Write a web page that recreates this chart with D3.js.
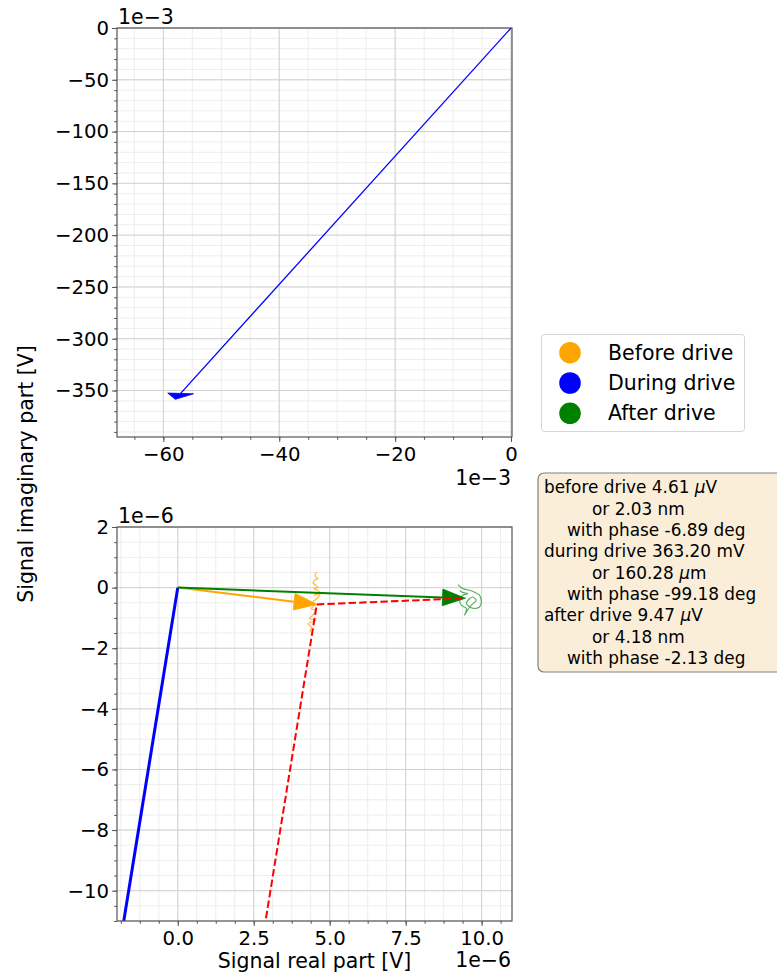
<!DOCTYPE html>
<html>
<head>
<meta charset="utf-8">
<script src="https://cdn.jsdelivr.net/npm/d3@7"></script>
<style>
body { margin: 0; background: #fff; }
text { font-family: "DejaVu Sans", sans-serif; }
</style>
</head>
<body>
<svg id="chart" width="777" height="976"></svg>
<script>
// values
var traceNames = ["Before drive", "During drive", "After drive"];
var amplitudeV = [4.61e-6, 363.20e-3, 9.47e-6];
var amplitudeText = ["4.61 μV", "363.20 mV", "9.47 μV"];
var displacementText = ["2.03 nm", "160.28 μm", "4.18 nm"];
var phaseDeg = [-6.89, -99.18, -2.13];

// noisy demodulated traces, in units of 1e-6 V
var beforeRe = [4.58, 4.52, 4.55, 4.62, 4.50, 4.45, 4.55, 4.62, 4.48, 4.67, 4.55, 4.50, 4.68, 4.58, 4.45, 4.52, 4.40, 4.52, 4.45, 4.34, 4.55, 4.28, 4.40, 4.34];
var beforeIm = [0.51, 0.42, 0.35, 0.30, 0.24, 0.15, 0.08, 0.00, -0.03, -0.14, -0.20, -0.25, -0.22, -0.36, -0.47, -0.55, -0.69, -0.75, -0.91, -1.02, -1.08, -1.19, -1.30, -1.46];
var afterRe = [9.22, 9.38, 9.61, 9.77, 9.93, 9.99, 9.93, 9.77, 9.61, 9.50, 9.61, 9.71, 9.82, 9.66, 9.50, 9.44, 9.50, 9.33, 9.28, 9.38, 9.55, 9.36, 9.28];
var afterIm = [0.10, -0.03, -0.09, -0.15, -0.25, -0.47, -0.64, -0.69, -0.64, -0.53, -0.36, -0.31, -0.42, -0.58, -0.80, -0.91, -0.69, -0.58, -0.42, -0.25, -0.20, -0.15, -0.09];

// tick labels
var topXTicks = [-60, -40, -20, 0];
var topYTicks = [0, -50, -100, -150, -200, -250, -300, -350];
var botXTicks = [0, 2.5, 5, 7.5, 10];
var botYTicks = [2, 0, -2, -4, -6, -8, -10];

var traceColors = ["orange", "blue", "green"];
var spineColor = "#555";

var svg = d3.select("#chart");
var defs = svg.append("defs");

// vector tips (V)
var tipRe = amplitudeV.map(function(a, i) { return a * Math.cos(phaseDeg[i] * Math.PI / 180); });
var tipIm = amplitudeV.map(function(a, i) { return a * Math.sin(phaseDeg[i] * Math.PI / 180); });

function steps(domain, step) {
	var lo = Math.ceil(d3.min(domain) / step - 1e-9), hi = Math.floor(d3.max(domain) / step + 1e-9);
	return d3.range(lo, hi + 1).map(function(k) { return k * step; });
}

function arrow(g, x, y, x1, y1, headLen, headWidth, color, lw, yStop) {
	var L = Math.hypot(x1, y1);
	var ux = x1 / L, uy = y1 / L;
	var bx = x1 - ux * headLen, by = y1 - uy * headLen;
	var px = -uy * headWidth / 2, py = ux * headWidth / 2;
	var ex = bx, ey = by;
	if (yStop !== undefined && by < yStop) { ey = yStop; ex = x1 * yStop / y1; }
	g.append("line")
		.attr("x1", x(0)).attr("y1", y(0))
		.attr("x2", x(ex)).attr("y2", y(ey))
		.attr("stroke", color).attr("stroke-width", lw);
	if (ex !== bx) return;
	g.append("path")
		.attr("d", "M" + x(bx + px) + "," + y(by + py) + "L" + x(x1) + "," + y(y1) + "L" + x(bx - px) + "," + y(by - py) + "Z")
		.attr("fill", color).attr("stroke", color).attr("stroke-width", 0.8);
}

function panel(cfg) {
	var g = svg.append("g").attr("transform", "translate(" + cfg.left + "," + cfg.top + ")");
	var x = d3.scaleLinear().domain(cfg.xDomain).range([0, cfg.width]);
	var y = d3.scaleLinear().domain(cfg.yDomain).range([cfg.height, 0]);

	defs.append("clipPath").attr("id", "clip" + cfg.id)
		.append("rect").attr("width", cfg.width).attr("height", cfg.height);

	var xMinor = steps(cfg.xDomain, cfg.xMinor), yMinor = steps(cfg.yDomain, cfg.yMinor);

	var grid = g.append("g");
	grid.selectAll(".vm").data(xMinor).enter().append("line")
		.attr("x1", x).attr("x2", x).attr("y1", 0).attr("y2", cfg.height)
		.attr("stroke", "#ededed");
	grid.selectAll(".hm").data(yMinor).enter().append("line")
		.attr("y1", y).attr("y2", y).attr("x1", 0).attr("x2", cfg.width)
		.attr("stroke", "#ededed");
	grid.selectAll(".vM").data(cfg.xTicks).enter().append("line")
		.attr("x1", x).attr("x2", x).attr("y1", 0).attr("y2", cfg.height)
		.attr("stroke", "#d2d2d2");
	grid.selectAll(".hM").data(cfg.yTicks).enter().append("line")
		.attr("y1", y).attr("y2", y).attr("x1", 0).attr("x2", cfg.width)
		.attr("stroke", "#d2d2d2");

	var plot = g.append("g").attr("clip-path", "url(#clip" + cfg.id + ")");
	cfg.draw(plot, x, y);

	g.append("rect").attr("width", cfg.width).attr("height", cfg.height)
		.attr("fill", "none").attr("stroke", spineColor).attr("stroke-width", 1.2);

	var fmt = d3.format(cfg.fmtX), fmtY = d3.format(cfg.fmtY);
	var ax = g.append("g").attr("transform", "translate(0," + cfg.height + ")")
		.call(d3.axisBottom(x).tickValues(cfg.xTicks).tickFormat(fmt).tickSize(5).tickPadding(5));
	var axm = g.append("g").attr("transform", "translate(0," + cfg.height + ")")
		.call(d3.axisBottom(x).tickValues(xMinor).tickFormat("").tickSize(2.8));
	var ay = g.append("g")
		.call(d3.axisLeft(y).tickValues(cfg.yTicks).tickFormat(fmtY).tickSize(5).tickPadding(3));
	var aym = g.append("g")
		.call(d3.axisLeft(y).tickValues(yMinor).tickFormat("").tickSize(2.8));
	[ax, axm, ay, aym].forEach(function(a) {
		a.select(".domain").remove();
		a.selectAll("line").attr("stroke", spineColor).attr("stroke-width", 1);
		a.selectAll("text").attr("font-size", 19.7).attr("fill", "#000")
			.attr("font-family", "DejaVu Sans");
	});

	g.append("text").attr("x", 1).attr("y", -4).attr("font-size", 20.5).text(cfg.offset);
	g.append("text").attr("x", cfg.width - 1).attr("y", cfg.offsetBottomY)
		.attr("text-anchor", "end").attr("font-size", 20.5).text(cfg.offset);
}

// top panel: whole drive, units 1e-3 V
panel({
	id: "top", left: 117, top: 28, width: 395, height: 409,
	xDomain: [-68, 0.17], yDomain: [-394.9, 0],
	xTicks: topXTicks, yTicks: topYTicks, xMinor: 5, yMinor: 10,
	fmtX: "d", fmtY: "d", offset: "1e−3", offsetBottomY: 457,
	draw: function(p, x, y) {
		var s = 1e-3;
		var ln = d3.line().x(function(d) { return x(d[0] * 1e-6 / s); }).y(function(d) { return y(d[1] * 1e-6 / s); });
		p.append("path").attr("d", ln(d3.zip(beforeRe, beforeIm))).attr("fill", "none").attr("stroke", "orange").attr("stroke-opacity", 0.5);
		p.append("path").attr("d", ln(d3.zip(afterRe, afterIm))).attr("fill", "none").attr("stroke", "green").attr("stroke-opacity", 0.7).attr("stroke-width", 2);
		arrow(p, x, y, tipRe[1] / s, tipIm[1] / s, 5.8, 4.5, "blue", 1.3);
	}
});

// bottom panel: zoom on before / after, units 1e-6 V
panel({
	id: "bot", left: 117, top: 527, width: 395, height: 394,
	xDomain: [-2, 11], yDomain: [-11, 2],
	xTicks: botXTicks, yTicks: botYTicks, xMinor: 0.625, yMinor: 0.5,
	fmtX: ".1f", fmtY: "d", offset: "1e−6", offsetBottomY: 440,
	draw: function(p, x, y) {
		var s = 1e-6, yStop = -11.6;
		var ln = d3.line().x(function(d) { return x(d[0]); }).y(function(d) { return y(d[1]); })
			.curve(d3.curveCatmullRom);
		var straight = d3.line().x(function(d) { return x(d[0]); }).y(function(d) { return y(d[1]); });
		p.append("path").attr("d", ln(d3.zip(beforeRe, beforeIm))).attr("fill", "none")
			.attr("stroke", "orange").attr("stroke-opacity", 0.75).attr("stroke-width", 1.2);
		p.append("path").attr("d", ln(d3.zip(afterRe, afterIm))).attr("fill", "none")
			.attr("stroke", "green").attr("stroke-opacity", 0.65).attr("stroke-width", 1.1);
		arrow(p, x, y, tipRe[0] / s, tipIm[0] / s, 0.75, 0.55, "orange", 2);
		arrow(p, x, y, tipRe[1] / s, tipIm[1] / s, 0.75, 0.55, "blue", 3, yStop);
		arrow(p, x, y, tipRe[2] / s, tipIm[2] / s, 0.75, 0.55, "green", 2);
		// red path: before tip -> along the drive vector, and before tip -> after tip
		var bRe = tipRe[0] / s, bIm = tipIm[0] / s;
		var k = (yStop - bIm) / (tipIm[1] / s);
		var red = [[bRe + k * tipRe[1] / s, yStop], [bRe, bIm], [tipRe[2] / s, tipIm[2] / s]];
		p.append("path").attr("d", straight(red)).attr("fill", "none")
			.attr("stroke", "red").attr("stroke-width", 2).attr("stroke-dasharray", "7.4,3.2");
	}
});

// axis labels
svg.append("text").attr("x", 314.5).attr("y", 967.5).attr("text-anchor", "middle")
	.attr("font-size", 20.5).text("Signal real part [V]");
svg.append("text").attr("transform", "translate(33,474) rotate(-90)").attr("text-anchor", "middle")
	.attr("font-size", 20.5).text("Signal imaginary part [V]");

// legend
var leg = svg.append("g");
leg.append("rect").attr("x", 541.5).attr("y", 334.5).attr("width", 203).attr("height", 97)
	.attr("rx", 3).attr("fill", "#fff").attr("stroke", "#d5d5d5");
traceNames.forEach(function(name, i) {
	leg.append("circle").attr("cx", 570).attr("cy", 352.7 + i * 30.3).attr("r", 10.8).attr("fill", traceColors[i]);
	leg.append("text").attr("x", 608).attr("y", 359.5 + i * 30.3).attr("font-size", 20.5).text(name);
});

// info box
var info = [];
traceNames.forEach(function(name, i) {
	info.push([name.toLowerCase() + " " + amplitudeText[i], 0]);
	info.push(["or " + displacementText[i], 48]);
	info.push(["with phase " + phaseDeg[i].toFixed(2) + " deg", 23]);
});
var box = svg.append("g");
box.append("rect").attr("x", 538).attr("y", 473).attr("width", 260).attr("height", 199)
	.attr("rx", 6).attr("fill", "#faeed9").attr("stroke", "#808080").attr("stroke-width", 1.2);
info.forEach(function(line, i) {
	var t = box.append("text").attr("x", 544 + line[1]).attr("y", 493.3 + i * 21.35).attr("font-size", 16.9);
	line[0].split(/(μ)/).forEach(function(part) {
		if (!part) return;
		var ts = t.append("tspan").text(part);
		if (part === "μ") ts.attr("font-style", "italic");
	});
});
</script>
</body>
</html>
